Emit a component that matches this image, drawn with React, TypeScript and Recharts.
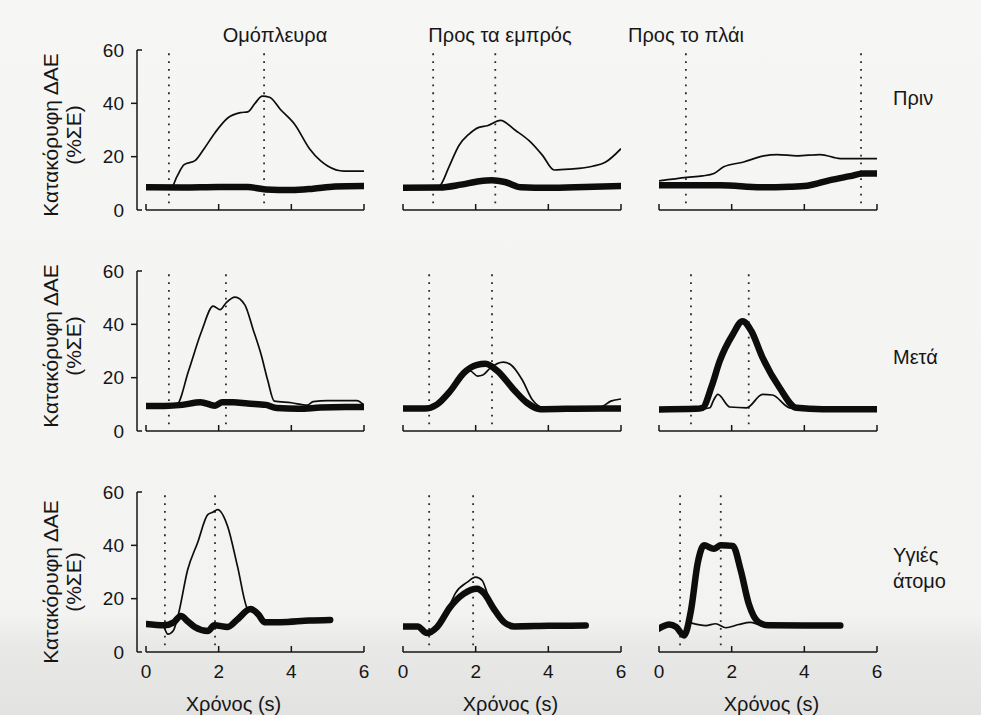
import React from 'react';
import { LineChart, Line, XAxis, YAxis, ReferenceLine, Label } from 'recharts';

type Pt = { t: number; v: number };
const zip = (t: number[], v: number[]): Pt[] => t.map((x, i) => ({ t: x, v: v[i] }));

const columnTitles = ['Ομόπλευρα', 'Προς τα εμπρός', 'Προς το πλάι'];
const rowLabels = [['Πριν'], ['Μετά'], ['Υγιές', 'άτομο']];
const xTicks = [0, 2, 4, 6];
const yTicks = [0, 20, 40, 60];
const yLabelLines = ['Κατακόρυφη ΔΑΕ', '(%ΣΕ)'];
const xLabel = 'Χρόνος (s)';

// row 1 (Πριν)
const r1c1ThinT = [0, 0.5, 0.7, 0.85, 1.05, 1.35, 1.6, 1.9, 2.25, 2.6, 2.8, 3.0, 3.2, 3.4, 3.7, 4.1, 4.5, 4.8, 5.0, 5.45, 6.0];
const r1c1ThinV = [8.2, 8.2, 8.4, 12.5, 17, 18.5, 23, 29, 34.5, 36.5, 36.8, 40, 42.7, 42.3, 37.7, 32, 23, 18.5, 16.5, 14.6, 14.6];
const r1c1ThickT = [0, 1, 2, 2.8, 3.3, 4, 4.6, 5.2, 6];
const r1c1ThickV = [8.5, 8.4, 8.6, 8.6, 7.7, 7.5, 8.0, 8.8, 9.0];
const r1c1Marks = [0.63, 3.25];

const r1c2ThinT = [0, 0.9, 1.02, 1.26, 1.54, 1.81, 2.09, 2.32, 2.68, 3.1, 3.47, 3.84, 4.16, 4.58, 5.22, 5.58, 6];
const r1c2ThinV = [8.5, 8.6, 9.2, 16, 24.2, 28.4, 31, 31.6, 33.6, 29.8, 26, 20.5, 15, 15.3, 16.4, 18, 23];
const r1c2ThickT = [0, 1, 1.6, 2.1, 2.45, 2.8, 3.25, 4, 5, 6];
const r1c2ThickV = [8.3, 8.4, 9.5, 10.8, 11.2, 10.5, 8.5, 8.3, 8.6, 9.0];
const r1c2Marks = [0.83, 2.54];

const r1c3ThinT = [0, 0.77, 1.2, 1.51, 1.78, 2.33, 2.88, 3.25, 3.8, 4.44, 4.99, 5.5, 6];
const r1c3ThinV = [10.9, 12.2, 12.8, 13.7, 16.2, 18, 20.3, 20.8, 20.3, 20.8, 19.3, 19.3, 19.3];
const r1c3ThickT = [0, 1.7, 2.8, 3.6, 4.08, 4.71, 5.26, 5.62, 6];
const r1c3ThickV = [9.3, 9.3, 8.5, 8.7, 9.1, 11.2, 12.7, 13.7, 13.7];
const r1c3Marks = [0.74, 5.56];

// row 2 (Μετά)
const r2c1ThinT = [0, 0.6, 0.85, 1.17, 1.53, 1.85, 2.04, 2.2, 2.45, 2.72, 2.95, 3.17, 3.35, 3.53, 4.0, 4.44, 4.6, 5.0, 5.8, 6];
const r2c1ThinV = [9.7, 9.7, 10, 22.5, 37.4, 46.8, 45.5, 48, 50.2, 47.3, 38, 28.6, 19, 11.2, 10.6, 9.7, 11, 11.4, 11.4, 9.7];
const r2c1ThickT = [0, 0.5, 1.0, 1.5, 1.9, 2.1, 2.4, 2.8, 3.3, 3.6, 4.2, 4.8, 5.5, 6];
const r2c1ThickV = [9.4, 9.4, 9.8, 10.8, 9.5, 10.8, 10.8, 10.3, 9.8, 8.6, 8.3, 8.8, 9.0, 9.0];
const r2c1Marks = [0.63, 2.2];

const r2c2ThinT = [0, 0.6, 0.93, 1.3, 1.67, 1.85, 2.05, 2.2, 2.4, 2.76, 2.95, 3.28, 3.56, 3.9, 5.0, 5.45, 5.72, 6];
const r2c2ThinV = [8.4, 8.4, 9.9, 15, 21.7, 22.5, 20.6, 21, 23.6, 25.8, 25, 19.2, 11.7, 8.6, 8.4, 9, 11.2, 12];
const r2c2ThickT = [0, 0.6, 0.93, 1.3, 1.67, 2.04, 2.27, 2.6, 3.05, 3.42, 3.78, 4.5, 5.5, 6];
const r2c2ThickV = [8.4, 8.4, 9.9, 15, 21.7, 24.8, 25.2, 22.5, 15.5, 10.5, 8.2, 8.3, 8.4, 8.4];
const r2c2Marks = [0.72, 2.45];

const r2c3ThinT = [0, 1.2, 1.4, 1.5, 1.62, 1.95, 2.41, 2.85, 3.12, 3.59, 4.0, 6];
const r2c3ThinV = [8.1, 8.3, 8.7, 11.5, 13.7, 9, 8.7, 13.7, 13.5, 8.7, 8.2, 8.2];
const r2c3ThickT = [0, 1.0, 1.2, 1.45, 1.67, 2.03, 2.3, 2.54, 2.85, 3.32, 3.78, 4.5, 6];
const r2c3ThickV = [8.1, 8.3, 8.7, 16.8, 26.2, 36.2, 41.2, 37.5, 27.5, 16.2, 8.7, 8.2, 8.2];
const r2c3Marks = [0.88, 2.47];

// row 3 (Υγιές άτομο)
const r3c1ThinT = [0, 0.45, 0.6, 0.75, 0.88, 1.15, 1.42, 1.7, 1.85, 1.97, 2.25, 2.52, 2.8, 3.0, 3.26, 3.7, 5.0];
const r3c1ThinV = [10.5, 10.2, 6.7, 8, 13.5, 31, 41, 51.5, 52.5, 53.4, 47, 32, 16, 14.5, 11.2, 11.2, 12];
const r3c1ThickT = [0, 0.5, 0.75, 0.96, 1.15, 1.34, 1.7, 1.88, 2.25, 2.5, 2.88, 3.1, 3.26, 3.7, 4.5, 5.07];
const r3c1ThickV = [10.5, 10, 11, 13.5, 11.5, 9.4, 7.9, 10, 9.4, 12, 16.1, 14, 11.2, 11.2, 11.8, 12];
const r3c1Marks = [0.52, 1.9];

const r3c2ThinT = [0, 0.4, 0.66, 0.94, 1.3, 1.44, 1.77, 2.0, 2.18, 2.32, 2.5, 2.78, 3.06, 4, 5.03];
const r3c2ThinV = [9.6, 9.6, 7.1, 9.4, 18, 22, 26.2, 28.1, 26.8, 22, 16.2, 11.2, 9.6, 9.8, 9.9];
const r3c2ThickT = [0, 0.4, 0.66, 0.94, 1.3, 1.68, 2.04, 2.23, 2.5, 2.78, 3.06, 4, 5.03];
const r3c2ThickV = [9.6, 9.6, 7.1, 9.4, 16.9, 21.9, 23.7, 22, 16.2, 11.2, 9.6, 9.8, 9.9];
const r3c2Marks = [0.72, 1.93];

const r3c3ThinT = [0.88, 1.29, 1.56, 1.84, 2.19, 2.52, 2.74, 3.01, 4, 4.99];
const r3c3ThinV = [10.9, 9.9, 10.6, 9.1, 10.3, 11.1, 10.3, 10, 9.9, 9.9];
const r3c3ThickT = [0, 0.28, 0.47, 0.69, 0.88, 1.07, 1.24, 1.51, 1.7, 2.03, 2.25, 2.47, 2.74, 3.01, 4, 4.99];
const r3c3ThickV = [8.8, 10.3, 9.4, 6.2, 15.6, 33.7, 40, 38.7, 40, 39.8, 30.6, 18.1, 11.2, 10, 9.9, 9.9];
const r3c3Marks = [0.58, 1.7];

const panels = [
  [
    { thin: zip(r1c1ThinT, r1c1ThinV), thick: zip(r1c1ThickT, r1c1ThickV), marks: r1c1Marks },
    { thin: zip(r1c2ThinT, r1c2ThinV), thick: zip(r1c2ThickT, r1c2ThickV), marks: r1c2Marks },
    { thin: zip(r1c3ThinT, r1c3ThinV), thick: zip(r1c3ThickT, r1c3ThickV), marks: r1c3Marks },
  ],
  [
    { thin: zip(r2c1ThinT, r2c1ThinV), thick: zip(r2c1ThickT, r2c1ThickV), marks: r2c1Marks },
    { thin: zip(r2c2ThinT, r2c2ThinV), thick: zip(r2c2ThickT, r2c2ThickV), marks: r2c2Marks },
    { thin: zip(r2c3ThinT, r2c3ThinV), thick: zip(r2c3ThickT, r2c3ThickV), marks: r2c3Marks },
  ],
  [
    { thin: zip(r3c1ThinT, r3c1ThinV), thick: zip(r3c1ThickT, r3c1ThickV), marks: r3c1Marks },
    { thin: zip(r3c2ThinT, r3c2ThinV), thick: zip(r3c2ThickT, r3c2ThickV), marks: r3c2Marks },
    { thin: zip(r3c3ThinT, r3c3ThinV), thick: zip(r3c3ThickT, r3c3ThickV), marks: r3c3Marks },
  ],
];

// layout (pixels)
const FONT = '"Liberation Sans", Arial, Helvetica, sans-serif';
const INK = '#161616';
const colX0 = [146, 403, 659];
const rowY0 = [210, 431, 652];
const PLOT_W = 218;
const PLOT_H = 160;
const GAP = 9; // y axis sits left of x=0
const LEFT_ROOM = 110;
const Y_W = 60;
const TOP_PAD = 10;
const X_H = 62;
const xLabelDx = [-17, 3, 8];
const yLabelDy = [5, -5, 10];

const YTick = (props: any) => {
  const { x, y, payload } = props;
  const ax = x + 13;
  const v = payload.value;
  const inward = v === 0 || v === 60;
  return (
    <g>
      <line x1={ax} x2={inward ? ax + 5 : ax - 6} y1={y} y2={y} stroke={INK} strokeWidth={1.5} />
      <text x={x} y={y} textAnchor="end" dominantBaseline="central" fontSize={19} fontFamily={FONT} fill={INK}>
        {v}
      </text>
    </g>
  );
};

const YLabel = (props: any) => {
  const { viewBox, dy } = props;
  const cy = viewBox.y + viewBox.height / 2 + dy;
  const xs = [viewBox.x - 27, viewBox.x - 4];
  return (
    <g>
      {yLabelLines.map((s, i) => (
        <text
          key={s}
          x={xs[i]}
          y={cy}
          transform={`rotate(-90, ${xs[i]}, ${cy})`}
          textAnchor="middle"
          dominantBaseline="central"
          fontSize={21}
          fontFamily={FONT}
          fill={INK}
        >
          {s}
        </text>
      ))}
    </g>
  );
};

function Panel({ row, col }: { row: number; col: number }) {
  const p = panels[row][col];
  const x0 = colX0[col];
  const y0 = rowY0[row];
  const showY = col === 0;
  const showX = row === 2;
  return (
    <div style={{ position: 'absolute', left: x0 - GAP - LEFT_ROOM, top: y0 - PLOT_H - TOP_PAD }}>
      <LineChart
        width={LEFT_ROOM + GAP + PLOT_W + 12}
        height={TOP_PAD + PLOT_H + X_H + 2}
        margin={{ top: TOP_PAD, right: 12, bottom: 2, left: showY ? LEFT_ROOM - Y_W : LEFT_ROOM }}
      >
        <XAxis
          type="number"
          dataKey="t"
          domain={[0, 6]}
          ticks={xTicks}
          interval={0}
          allowDataOverflow
          padding={{ left: GAP, right: 0 }}
          axisLine={false}
          tickSize={-6}
          tickMargin={19}
          height={X_H}
          tickLine={{ stroke: INK, strokeWidth: 1.5 }}
          tick={{ fontSize: 19, fill: INK, fontFamily: FONT }}
          tickFormatter={(v: number) => (showX ? String(v) : '')}
        >
          {showX && (
            <Label
              value={xLabel}
              position="insideBottom"
              offset={3}
              dx={xLabelDx[col]}
              style={{ fontSize: 20, fill: INK, fontFamily: FONT }}
            />
          )}
        </XAxis>
        <YAxis
          type="number"
          domain={[0, 60]}
          ticks={yTicks}
          allowDataOverflow
          hide={!showY}
          width={Y_W}
          tickSize={6}
          tickMargin={7}
          tickLine={false}
          axisLine={{ stroke: INK, strokeWidth: 1.5 }}
          tick={<YTick />}
          label={{ content: (lp: any) => <YLabel {...lp} dy={yLabelDy[row]} /> }}
        />
        <ReferenceLine
          segment={[{ x: 0, y: 0 }, { x: 6, y: 0 }]}
          stroke={INK}
          strokeWidth={1.5}
          ifOverflow="visible"
        />
        {p.marks.map((m) => (
          <ReferenceLine
            key={m}
            segment={[{ x: m, y: 2.5 }, { x: m, y: 59 }]}
            stroke="#2a2a2a"
            strokeWidth={1.8}
            strokeDasharray="1.8 6"
            ifOverflow="visible"
          />
        ))}
        <Line
          data={p.thick}
          dataKey="v"
          type="monotone"
          dot={false}
          stroke="#0d0d0d"
          strokeWidth={6.5}
          strokeLinecap="round"
          isAnimationActive={false}
        />
        <Line
          data={p.thin}
          dataKey="v"
          type="monotone"
          dot={false}
          stroke="#0d0d0d"
          strokeWidth={1.7}
          isAnimationActive={false}
        />
      </LineChart>
    </div>
  );
}

const textStyle: React.CSSProperties = {
  position: 'absolute',
  fontFamily: FONT,
  fontSize: 20,
  color: INK,
  whiteSpace: 'nowrap',
  lineHeight: '26px',
};

const titleCenters = [275, 500, 686];
const rowLabelTops = [85, 344, 542];

export default function App() {
  return (
    <div
      style={{
        position: 'absolute',
        left: 0,
        top: 0,
        width: 981,
        height: 715,
        overflow: 'hidden',
        background: 'linear-gradient(180deg, #f6f6f5 0%, #f3f3f2 86%, #e9e9e8 90%, #e2e2e1 100%)',
      }}
    >
      {columnTitles.map((s, i) => (
        <div key={s} style={{ ...textStyle, left: titleCenters[i] - 100, width: 200, textAlign: 'center', top: 22 }}>
          {s}
        </div>
      ))}
      {rowLabels.map((lines, i) => (
        <div key={i} style={{ ...textStyle, left: 893, top: rowLabelTops[i] }}>
          {lines.map((l) => (
            <div key={l}>{l}</div>
          ))}
        </div>
      ))}
      {[0, 1, 2].map((r) => [0, 1, 2].map((c) => <Panel key={`${r}-${c}`} row={r} col={c} />))}
    </div>
  );
}
